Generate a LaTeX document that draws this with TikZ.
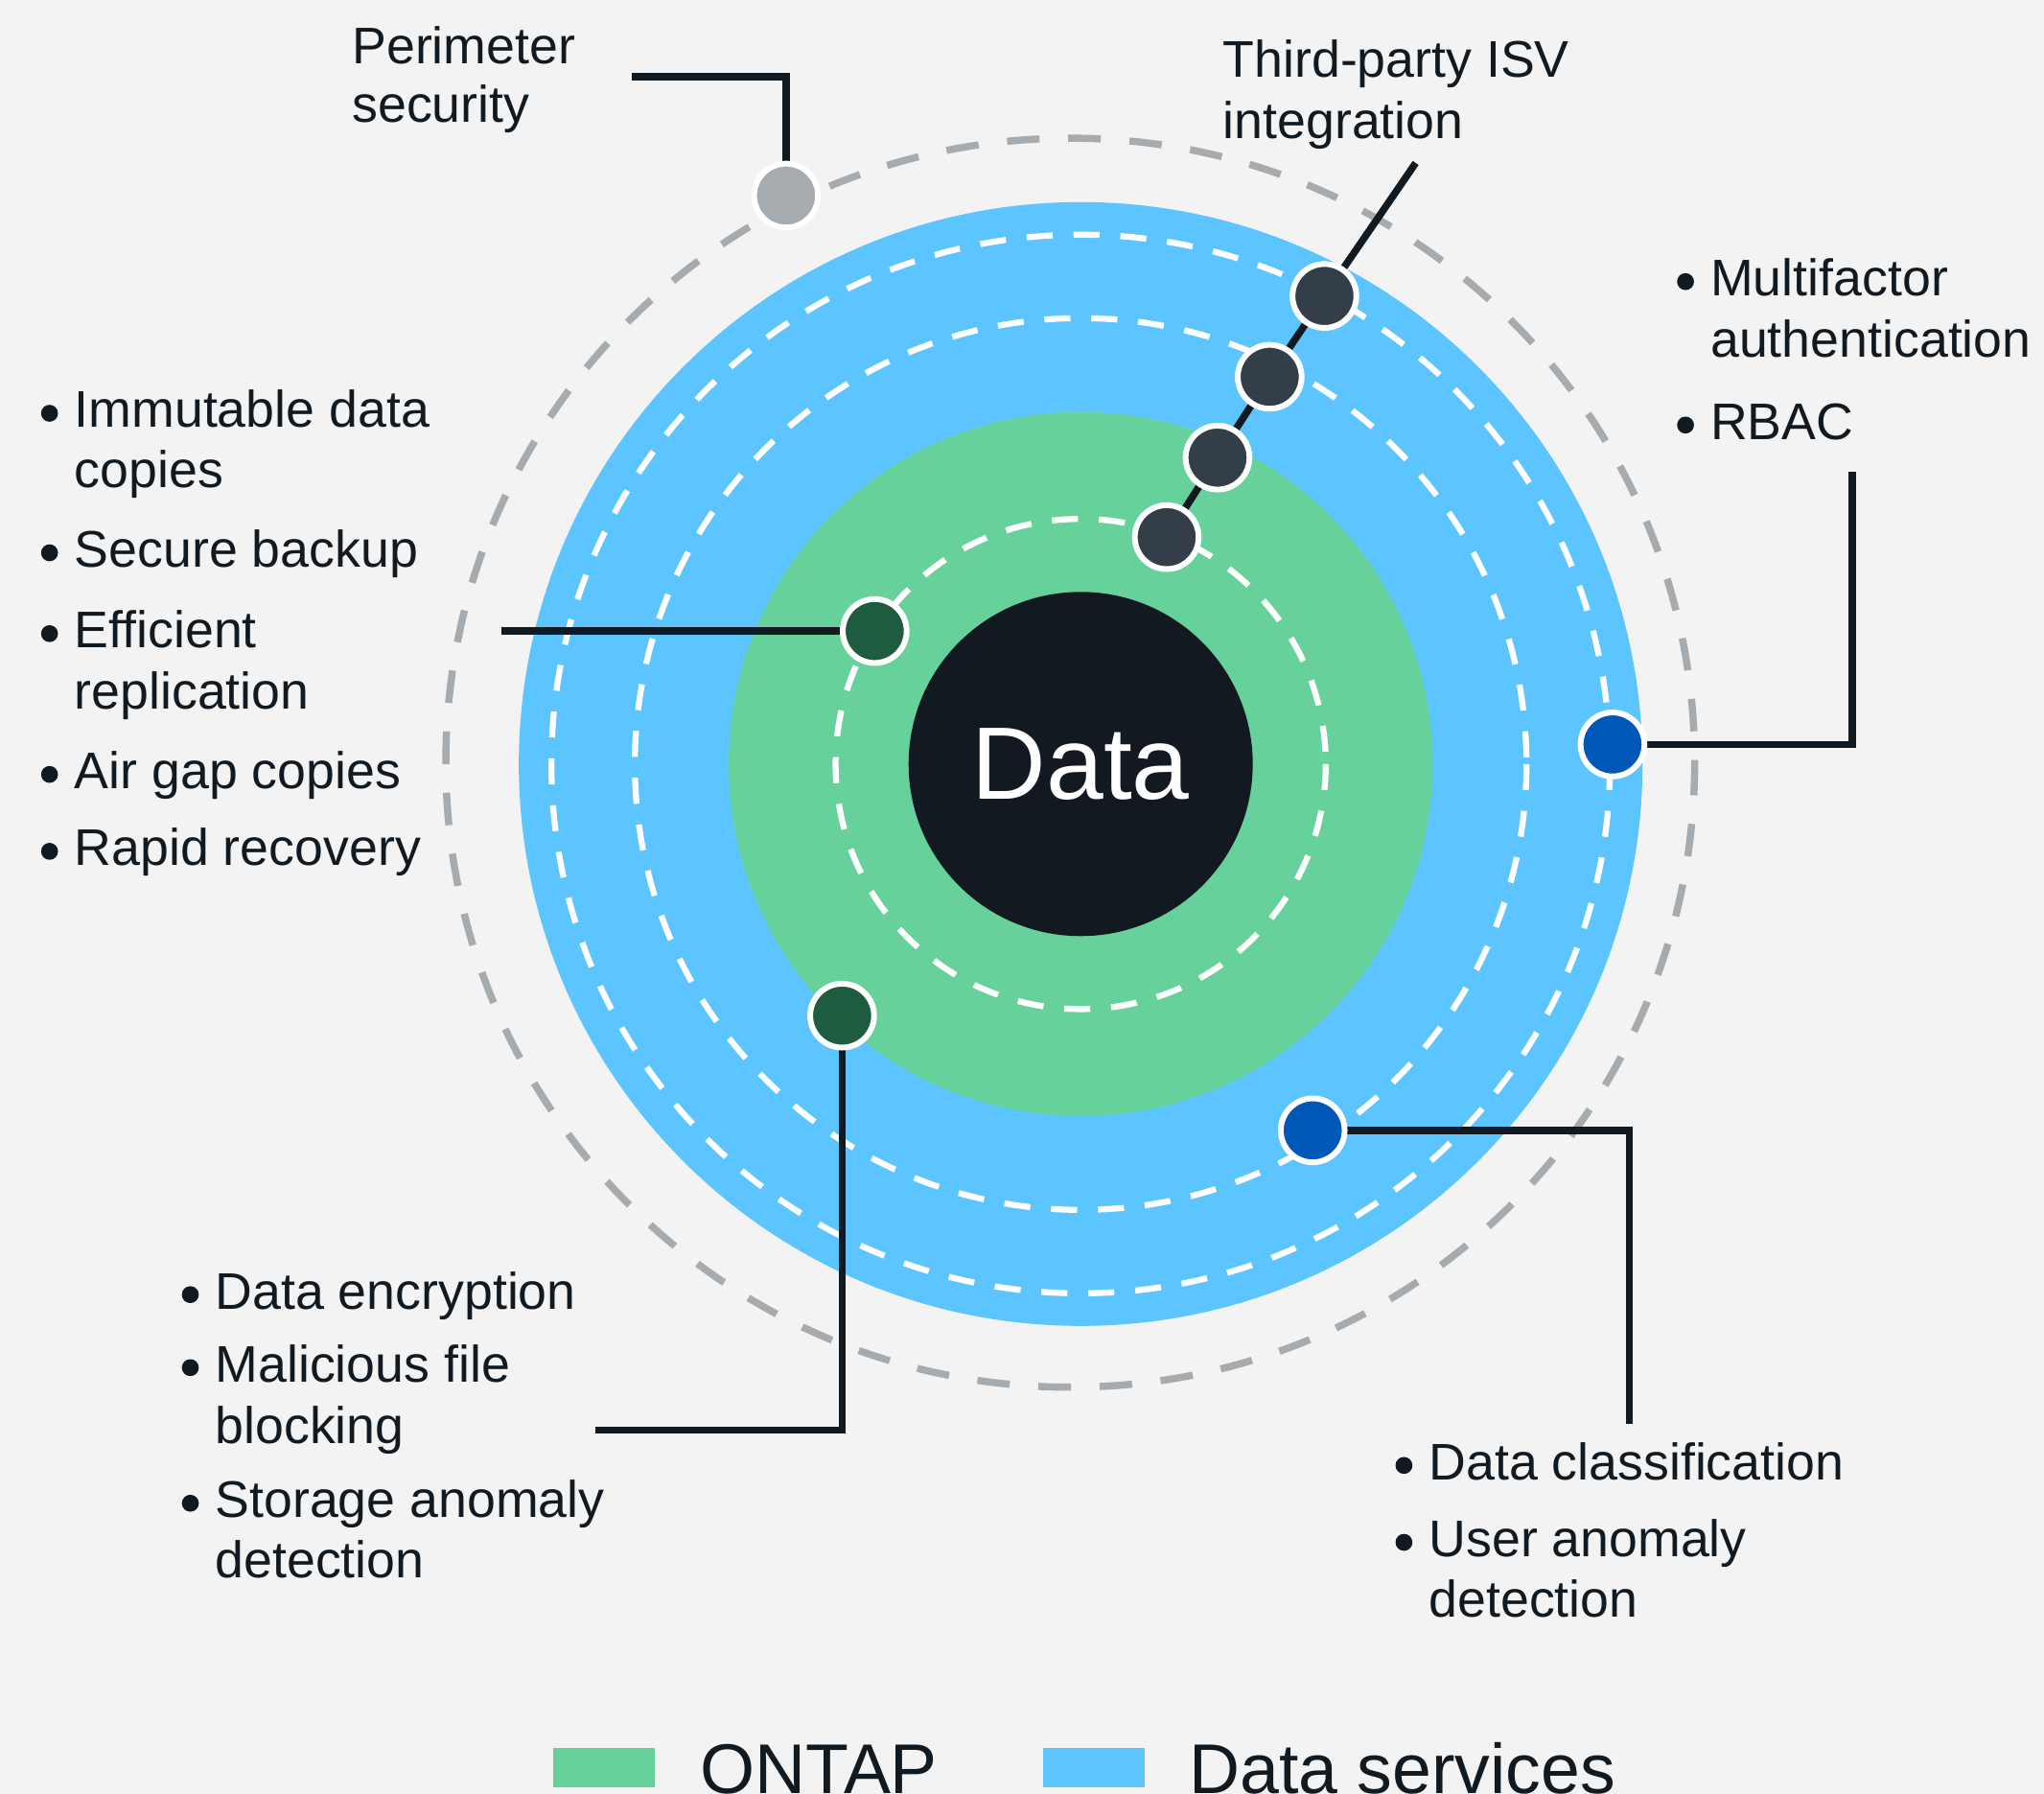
\documentclass[tikz,border=0pt]{standalone}
\usepackage{fontspec}
\setmainfont{Liberation Sans}
\definecolor{bgc}{HTML}{F3F3F3}
\definecolor{bluec}{HTML}{5CC4FF}
\definecolor{greenc}{HTML}{66D19A}
\definecolor{corec}{HTML}{121920}
\definecolor{ink}{HTML}{121A21}
\definecolor{dotdark}{HTML}{333E48}
\definecolor{dotgreen}{HTML}{1E5C3F}
\definecolor{dotblue}{HTML}{0057B8}
\definecolor{grayc}{HTML}{A5ABAE}
\pgfdeclarelayer{back}
\pgfdeclarelayer{conn}
\pgfsetlayers{back,conn,main}
\tikzset{
  dotnode/.style={circle, draw=white, line width=4.4pt, minimum size=49pt, inner sep=0pt},
  conn/.style={draw=ink, line width=5.5pt},
  txt/.style={anchor=base west, inner sep=0pt, text=ink, font=\fontsize{39.5}{47}\selectfont},
  legtxt/.style={anchor=base west, inner sep=0pt, text=ink, font=\fontsize{54}{60}\selectfont},
  whitedash/.style={draw=white, line width=4.6pt, dash pattern=on 20pt off 16pt},
  graydash/.style={draw=grayc, line width=5.5pt, dash pattern=on 25pt off 22pt},
  bul/.style={fill=ink}
}
\begin{document}
\begin{tikzpicture}[x=1pt,y=-1pt]
\useasboundingbox (0,0) rectangle (1568,1376);
\begin{pgfonlayer}{back}
\fill[bgc] (0,0) rectangle (1568,1376);
\draw[graydash] (821,585) circle[radius=479];
\fill[bluec] (829,586) circle[radius=431];
\draw[whitedash] (829,586) circle[radius=406];
\draw[whitedash] (829,586) circle[radius=342];
\fill[greenc] (829,586) circle[radius=270];
\draw[whitedash] (829,586) circle[radius=188];
\end{pgfonlayer}

% center
\node[circle, fill=corec, minimum size=264pt, inner sep=0pt, text=white,
      font=\fontsize{79}{90}\selectfont] (data) at (829,586) {Data};

% dots
\node[dotnode, fill=grayc] (p) at (603,150) {};
\node[dotnode, fill=dotdark] (t1) at (1016,227) {};
\node[dotnode, fill=dotdark] (t2) at (974,289) {};
\node[dotnode, fill=dotdark] (t3) at (934,351) {};
\node[dotnode, fill=dotdark] (t4) at (895,412) {};
\node[dotnode, fill=dotgreen] (g1) at (671,484) {};
\node[dotnode, fill=dotgreen] (g2) at (646,779) {};
\node[dotnode, fill=dotblue] (b1) at (1237,571) {};
\node[dotnode, fill=dotblue] (b2) at (1007,867) {};

% connector ends
\coordinate (pe) at (485,59);
\coordinate (te) at (1086,125);
\coordinate (be1) at (1421,362);
\coordinate (ge1) at (385,484);
\coordinate (ge2) at (457,1097);
\coordinate (be2) at (1250,1092);

\begin{pgfonlayer}{conn}
\draw[conn] (p.center) |- (pe);
\draw[conn] (t4.center) -- (t3.center) -- (t2.center) -- (t1.center) -- (te);
\draw[conn] (b1.center) -| (be1);
\draw[conn] (g1.center) -- (ge1);
\draw[conn] (g2.center) |- (ge2);
\draw[conn] (b2.center) -| (be2);
\end{pgfonlayer}

% top labels
\node[txt] (perim1) at (270,49) {Perimeter};
\node[txt] (perim2) at (270,94) {security};
\node[txt] (isv1) at (938,59) {Third-party ISV};
\node[txt] (isv2) at (938,106) {integration};

% right list
\fill[bul] (1293,216) circle[radius=6.5];
\node[txt] (mf1) at (1312,227) {Multifactor};
\node[txt] (mf2) at (1312,274) {authentication};
\fill[bul] (1293,326) circle[radius=6.5];
\node[txt] (rbac) at (1312,337) {RBAC};

% left list
\fill[bul] (38,317) circle[radius=6.5];
\node[txt] (l1a) at (57,328) {Immutable data};
\node[txt] (l1b) at (57,374) {copies};
\fill[bul] (38,424) circle[radius=6.5];
\node[txt] (l2) at (57,435) {Secure backup};
\fill[bul] (38,486) circle[radius=6.5];
\node[txt] (l3a) at (57,497) {Efficient};
\node[txt] (l3b) at (57,544) {replication};
\fill[bul] (38,594) circle[radius=6.5];
\node[txt] (l4) at (57,605) {Air gap copies};
\fill[bul] (38,653) circle[radius=6.5];
\node[txt] (l5) at (57,664) {Rapid recovery};

% bottom-left list
\fill[bul] (146,993) circle[radius=6.5];
\node[txt] (bl1) at (165,1004) {Data encryption};
\fill[bul] (146,1049) circle[radius=6.5];
\node[txt] (bl2a) at (165,1060) {Malicious file};
\node[txt] (bl2b) at (165,1107) {blocking};
\fill[bul] (146,1153) circle[radius=6.5];
\node[txt] (bl3a) at (165,1164) {Storage anomaly};
\node[txt] (bl3b) at (165,1210) {detection};

% bottom-right list
\fill[bul] (1077,1124) circle[radius=6.5];
\node[txt] (br1) at (1096,1135) {Data classification};
\fill[bul] (1077,1183) circle[radius=6.5];
\node[txt] (br2a) at (1096,1194) {User anomaly};
\node[txt] (br2b) at (1096,1240) {detection};

% legend
\fill[greenc] (424,1341) rectangle (502,1371);
\node[legtxt] (leg1) at (537,1376) {ONTAP};
\fill[bluec] (800,1341) rectangle (878,1371);
\node[legtxt] (leg2) at (912,1376) {Data services};
\end{tikzpicture}
\end{document}
